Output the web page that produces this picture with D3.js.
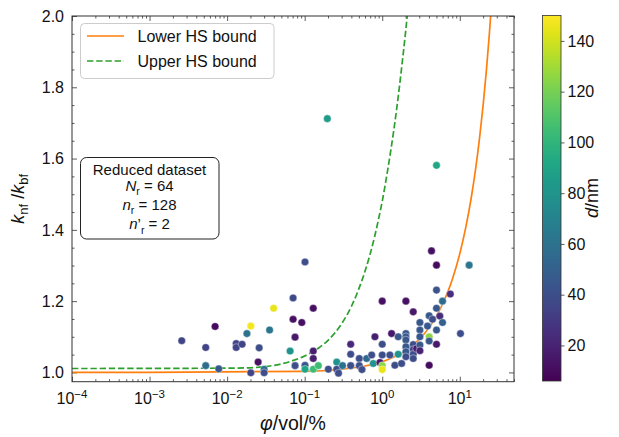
<!DOCTYPE html>
<html>
<head>
<meta charset="utf-8">
<script src="https://cdn.jsdelivr.net/npm/d3@7"></script>
<style>
  body { margin: 0; background: #fff; }
  svg { font-family: "Liberation Sans", Arial, Helvetica, sans-serif; }
</style>
</head>
<body>
<svg width="619" height="437"></svg>
<script>
// scatter data: volume fraction (%), conductivity ratio, particle diameter (nm)
const phiVals = [0.0026, 0.0053, 0.0053, 0.0070, 0.0078, 0.0131, 0.0131, 0.0156, 0.0202, 0.0180,
  0.0202, 0.0259, 0.0251, 0.0300, 0.0300, 0.0353, 0.0398, 0.0649, 0.0709, 0.0709,
  0.0752, 0.0752, 0.0918, 0.101, 0.101, 0.101, 0.129, 0.129, 0.129, 0.129,
  0.150, 0.202, 0.259, 0.259, 0.273, 0.308, 0.392, 0.392, 0.392, 0.506,
  0.506, 0.548, 0.630, 0.731, 0.805, 0.766, 0.934, 1.0, 1.0, 1.0,
  1.0, 1.0, 1.256, 1.32, 1.456, 1.607, 1.607, 1.778, 2.02, 2.02,
  2.02, 2.02, 2.02, 2.02, 2.02, 2.51, 2.51, 2.51, 2.51, 2.51,
  2.77, 3.06, 3.06, 3.06, 3.06, 3.06, 4.03, 3.84, 4.03, 4.03,
  4.03, 4.32, 5.01, 5.01, 5.01, 5.01, 5.01, 4.45, 5.53, 5.99,
  5.99, 7.55, 10.2, 13.2, 0.196, 5.01];
const kVals = [1.089, 1.070, 1.019, 1.129, 1.010, 1.081, 1.070, 1.079, 1.130, 1.109,
  0.999, 1.069, 1.029, 1.009, 0.999, 1.119, 1.180, 1.060, 1.209, 1.149,
  1.099, 1.019, 1.140, 1.310, 1.020, 1.009, 1.180, 1.060, 1.039, 1.009,
  1.019, 1.009, 1.029, 1.009, 0.998, 1.019, 1.079, 1.051, 1.019, 1.039,
  1.019, 1.008, 1.039, 1.049, 1.100, 1.025, 1.028, 1.079, 1.049, 1.019,
  1.008, 1.200, 1.049, 1.109, 1.020, 1.100, 1.051, 1.025, 1.200, 1.109,
  1.100, 1.091, 1.072, 1.058, 1.044, 1.170, 1.078, 1.064, 1.051, 1.039,
  1.067, 1.140, 1.119, 1.100, 1.077, 1.061, 1.159, 1.130, 1.100, 1.088,
  1.020, 1.341, 1.301, 1.231, 1.180, 1.119, 1.079, 1.149, 1.158, 1.200,
  1.140, 1.220, 1.109, 1.301, 1.712, 1.581];
const dVals = [35, 35, 57, 10, 45, 35, 35, 35, 148, 60,
  35, 40, 12, 60, 40, 62, 145, 80, 38, 12,
  15, 40, 12, 40, 45, 90, 12, 18, 18, 105,
  105, 40, 80, 40, 40, 60, 22, 40, 40, 40,
  40, 40, 55, 40, 18, 80, 15, 40, 40, 125,
  145, 12, 40, 15, 40, 45, 80, 40, 12, 45,
  45, 45, 45, 45, 40, 15, 40, 35, 40, 40,
  18, 45, 45, 45, 45, 20, 45, 45, 125, 45,
  10, 12, 10, 42, 45, 45, 15, 40, 25, 55,
  50, 25, 40, 62, 85, 92];

// Hashin-Shtrikman bounds
const lowerPhi = [0.0001, 0.001, 0.1, 0.3, 0.6, 1, 1.5, 2, 3, 4, 5, 6, 7, 8, 10, 12, 14, 16, 18, 20, 22, 24, 25, 26];
const lowerK = [1.0003, 1.0003, 1.003, 1.009, 1.018, 1.030, 1.046, 1.061, 1.093, 1.125, 1.158, 1.192, 1.226, 1.261, 1.333, 1.409, 1.488, 1.571, 1.659, 1.750, 1.846, 1.947, 2.0, 2.054];
const upperPhi = [0.0001, 0.01, 0.02, 0.03, 0.05, 0.07, 0.1, 0.15, 0.2, 0.3, 0.4, 0.5, 0.6, 0.7, 0.8, 0.9, 1.0, 1.2, 1.4, 1.6, 1.8, 2.0, 2.2];
const upperK = [1.011, 1.012, 1.013, 1.016, 1.024, 1.033, 1.046, 1.068, 1.09, 1.137, 1.185, 1.235, 1.284, 1.333, 1.382, 1.432, 1.48, 1.58, 1.675, 1.77, 1.865, 1.955, 2.045];

const yTicks = [1.0, 1.2, 1.4, 1.6, 1.8, 2.0];
const xTickExps = [-4, -3, -2, -1, 0, 1];
const cbarTicks = [20, 40, 60, 80, 100, 120, 140];

const svg = d3.select("svg");
const pLeft = 72, pRight = 514, pTop = 16, pBottom = 381.7;

const x = d3.scaleLog().domain([1e-4, 50]).range([pLeft, pRight]);
const y = d3.scaleLinear().domain([0.974, 2.0]).range([pBottom, pTop]);
const color = d3.scaleSequential(d3.interpolateViridis).domain([6, 150]);

const axisColor = "#333";
const dashPattern = "6.4,2.8";

// minor ticks
const xMinor = [];
xTickExps.forEach((e) => {
  for (let m = 2; m <= 9; m++) {
    const v = m * Math.pow(10, e);
    if (v <= 50) xMinor.push(v);
  }
});
const yMinor = d3.range(1.0, 2.001, 0.05).filter((v) => Math.abs(v * 5 - Math.round(v * 5)) > 1e-6);
const xMajor = xTickExps.map((e) => Math.pow(10, e));

function addAxis(axis, tx, ty) {
  const g = svg.append("g").attr("transform", `translate(${tx},${ty})`).call(axis);
  g.select(".domain").remove();
  g.selectAll(".tick line").attr("stroke", axisColor).attr("stroke-width", 0.8);
  g.selectAll("text").remove();
  return g;
}

addAxis(d3.axisBottom(x).tickValues(xMajor).tickSize(-5).tickSizeOuter(0), 0, pBottom);
addAxis(d3.axisBottom(x).tickValues(xMinor).tickSize(-2.5).tickSizeOuter(0), 0, pBottom);
addAxis(d3.axisTop(x).tickValues(xMajor).tickSize(-5).tickSizeOuter(0), 0, pTop);
addAxis(d3.axisTop(x).tickValues(xMinor).tickSize(-2.5).tickSizeOuter(0), 0, pTop);
addAxis(d3.axisLeft(y).tickValues(yTicks).tickSize(-5).tickSizeOuter(0), pLeft, 0);
addAxis(d3.axisLeft(y).tickValues(yMinor).tickSize(-2.5).tickSizeOuter(0), pLeft, 0);
addAxis(d3.axisRight(y).tickValues(yTicks).tickSize(-5).tickSizeOuter(0), pRight, 0);
addAxis(d3.axisRight(y).tickValues(yMinor).tickSize(-2.5).tickSizeOuter(0), pRight, 0);

// y tick labels
svg.append("g")
  .selectAll("text")
  .data(yTicks)
  .enter()
  .append("text")
  .attr("x", pLeft - 8)
  .attr("y", (d) => y(d))
  .attr("dy", "0.36em")
  .attr("text-anchor", "end")
  .attr("font-size", 16)
  .attr("fill", "#111")
  .text(d3.format(".1f"));

// x tick labels 10^n
const xl = svg.append("g")
  .selectAll("text")
  .data(xTickExps)
  .enter()
  .append("text")
  .attr("x", (d) => x(Math.pow(10, d)))
  .attr("y", 404)
  .attr("text-anchor", "middle")
  .attr("font-size", 16)
  .attr("fill", "#111");
xl.append("tspan").text("10");
xl.append("tspan")
  .attr("dy", -6.5)
  .attr("font-size", 11.5)
  .text((d) => (d < 0 ? "\u2212" + -d : "" + d));

// clip for curves
svg.append("clipPath").attr("id", "plot-clip")
  .append("rect")
  .attr("x", pLeft).attr("y", pTop)
  .attr("width", pRight - pLeft).attr("height", pBottom - pTop);

const line = d3.line()
  .x((d) => x(d[0]))
  .y((d) => y(d[1]))
  .curve(d3.curveMonotoneX);

const curves = svg.append("g").attr("clip-path", "url(#plot-clip)");
curves.append("path")
  .datum(d3.zip(upperPhi, upperK))
  .attr("d", line)
  .attr("fill", "none")
  .attr("stroke", "#2ca02c")
  .attr("stroke-width", 1.7)
  .attr("stroke-dasharray", dashPattern);
curves.append("path")
  .datum(d3.zip(lowerPhi, lowerK))
  .attr("d", line)
  .attr("fill", "none")
  .attr("stroke", "#ff7f0e")
  .attr("stroke-width", 1.7);

// scatter points
const points = d3.range(phiVals.length).map((i) => ({ phi: phiVals[i], k: kVals[i], d: dVals[i] }));
svg.append("g")
  .attr("clip-path", "url(#plot-clip)")
  .selectAll("circle")
  .data(points)
  .enter()
  .append("circle")
  .attr("cx", (d) => x(d.phi))
  .attr("cy", (d) => y(d.k))
  .attr("r", 3.8)
  .attr("fill", (d) => color(d.d))
  .attr("stroke", "#fff")
  .attr("stroke-width", 0.4);

// frame
svg.append("rect")
  .attr("x", pLeft).attr("y", pTop)
  .attr("width", pRight - pLeft).attr("height", pBottom - pTop)
  .attr("fill", "none")
  .attr("stroke", axisColor)
  .attr("stroke-width", 1);

// legend
const legend = svg.append("g");
legend.append("rect")
  .attr("x", 80.5).attr("y", 23.5)
  .attr("width", 193.5).attr("height", 55)
  .attr("rx", 4)
  .attr("fill", "#fff").attr("fill-opacity", 0.8)
  .attr("stroke", "#cccccc").attr("stroke-width", 1);
const legendItems = [
  { label: "Lower HS bound", color: "#ff7f0e", dash: null, y: 36 },
  { label: "Upper HS bound", color: "#2ca02c", dash: dashPattern, y: 61 },
];
legendItems.forEach((it) => {
  legend.append("line")
    .attr("x1", 87).attr("x2", 124)
    .attr("y1", it.y).attr("y2", it.y)
    .attr("stroke", it.color)
    .attr("stroke-width", 1.7)
    .attr("stroke-dasharray", it.dash);
  legend.append("text")
    .attr("x", 137.5).attr("y", it.y + 5.5)
    .attr("font-size", 16)
    .attr("fill", "#111")
    .text(it.label);
});

// info box
const box = svg.append("g");
box.append("rect")
  .attr("x", 80.5).attr("y", 157.5)
  .attr("width", 138.5).attr("height", 81.5)
  .attr("rx", 6)
  .attr("fill", "#fff")
  .attr("stroke", "#222").attr("stroke-width", 1);
const boxCx = 149.5;
box.append("text").attr("x", boxCx).attr("y", 175)
  .attr("text-anchor", "middle").attr("font-size", 15).attr("fill", "#111")
  .text("Reduced dataset");

function boxLine(yy, base, prime, sub, drop, rest) {
  const t = box.append("text").attr("x", boxCx).attr("y", yy)
    .attr("text-anchor", "middle").attr("font-size", 15).attr("fill", "#111");
  t.append("tspan").attr("font-style", "italic").text(base);
  if (prime) t.append("tspan").text("\u2019");
  t.append("tspan").attr("font-size", 10.5).attr("dy", drop).text(sub);
  t.append("tspan").attr("dy", -drop).text(rest);
}
boxLine(190.5, "N", false, "r", 4.5, " = 64");
boxLine(209.5, "n", false, "r", 4.5, " = 128");
boxLine(229, "n", true, "r", 4.5, "  = 2");

// axis labels
const xLabel = svg.append("text")
  .attr("x", (pLeft + pRight) / 2).attr("y", 430)
  .attr("text-anchor", "middle").attr("font-size", 19.5).attr("fill", "#111");
xLabel.append("tspan").attr("font-style", "italic").text("\u03c6");
xLabel.append("tspan").text("/vol/%");

const yLabel = svg.append("text")
  .attr("transform", `translate(24,${(pTop + pBottom) / 2}) rotate(-90)`)
  .attr("text-anchor", "middle").attr("font-size", 18).attr("fill", "#111");
yLabel.append("tspan").attr("font-style", "italic").text("k");
yLabel.append("tspan").attr("font-size", 13).attr("dy", 4).text("nf");
yLabel.append("tspan").attr("dy", -4).text(" /");
yLabel.append("tspan").attr("font-style", "italic").text("k");
yLabel.append("tspan").attr("font-size", 13).attr("dy", 4).text("bf");

// colorbar
const cbX = 542.5, cbW = 18.5, cbTop = 15.5, cbBottom = 381;
const cb = d3.scaleLinear().domain(color.domain()).range([cbBottom, cbTop]);
const grad = svg.append("defs").append("linearGradient")
  .attr("id", "viridis-grad")
  .attr("x1", "0%").attr("y1", "100%").attr("x2", "0%").attr("y2", "0%");
d3.range(0, 1.0001, 0.05).forEach((t) => {
  grad.append("stop")
    .attr("offset", `${t * 100}%`)
    .attr("stop-color", d3.interpolateViridis(t));
});
svg.append("rect")
  .attr("x", cbX).attr("y", cbTop)
  .attr("width", cbW).attr("height", cbBottom - cbTop)
  .attr("fill", "url(#viridis-grad)")
  .attr("stroke", axisColor).attr("stroke-width", 0.8);

const cbAxis = svg.append("g")
  .attr("transform", `translate(${cbX + cbW},0)`)
  .call(d3.axisRight(cb).tickValues(cbarTicks).tickSize(3.5).tickSizeOuter(0).tickPadding(3));
cbAxis.select(".domain").remove();
cbAxis.selectAll(".tick line").attr("stroke", axisColor).attr("stroke-width", 0.8);
cbAxis.selectAll("text")
  .attr("font-size", 16)
  .attr("font-family", "Liberation Sans, Arial, sans-serif")
  .attr("fill", "#111");

const cLabel = svg.append("text")
  .attr("transform", `translate(598,198) rotate(-90)`)
  .attr("text-anchor", "middle").attr("font-size", 18).attr("fill", "#111");
cLabel.append("tspan").attr("font-style", "italic").text("d");
cLabel.append("tspan").text("/nm");
</script>
</body>
</html>
